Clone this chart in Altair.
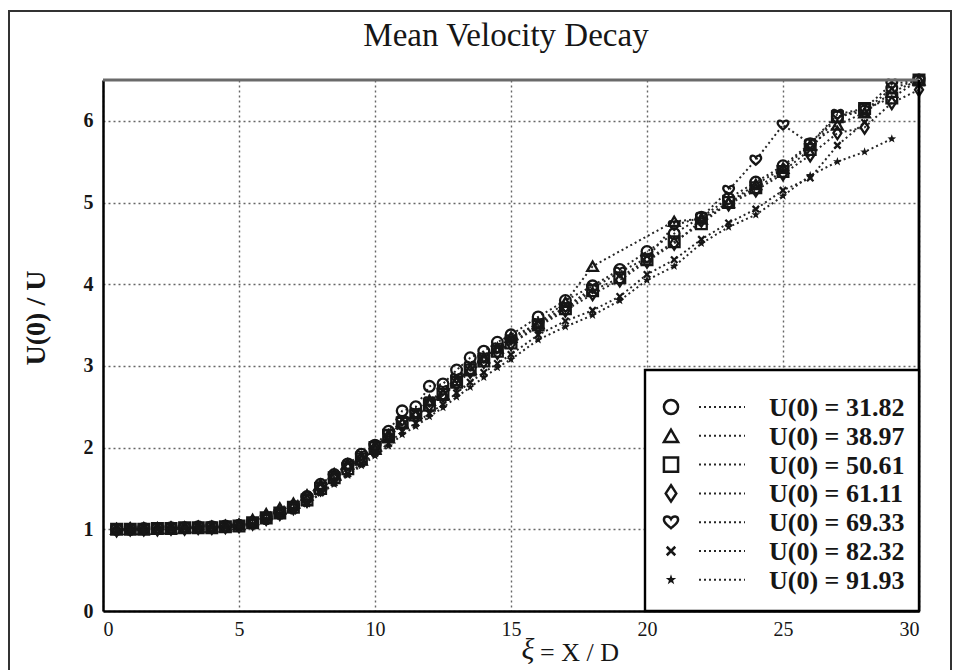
import altair as alt
import pandas as pd

# ---------------- data ----------------
SERIES = ["U(0) = 31.82", "U(0) = 38.97", "U(0) = 50.61", "U(0) = 61.11",
          "U(0) = 69.33", "U(0) = 82.32", "U(0) = 91.93"]

X_LOW = [0.5, 1.0, 1.5, 2.0, 2.5, 3.0, 3.5, 4.0, 4.5, 5.0,
         5.5, 6.0, 6.5, 7.0, 7.5, 8.0, 8.5, 9.0, 9.5, 10.0,
         10.5, 11.0, 11.5, 12.0, 12.5, 13.0, 13.5, 14.0, 14.5, 15.0]

Y_LOW_CIRCLE = [1.00, 1.00, 1.01, 1.01, 1.02, 1.02, 1.03, 1.03, 1.04, 1.05,
                1.08, 1.13, 1.20, 1.28, 1.40, 1.55, 1.67, 1.80, 1.92, 2.03,
                2.20, 2.45, 2.50, 2.75, 2.78, 2.95, 3.10, 3.18, 3.29, 3.38]
Y_LOW_TRIANGLE = [1.00, 1.00, 1.00, 1.01, 1.01, 1.02, 1.03, 1.03, 1.04, 1.06,
                  1.12, 1.19, 1.26, 1.32, 1.42, 1.55, 1.68, 1.80, 1.85, 1.98,
                  2.12, 2.30, 2.42, 2.58, 2.65, 2.82, 2.96, 3.10, 3.22, 3.35]
Y_LOW_SQUARE = [1.00, 1.00, 1.00, 1.01, 1.01, 1.02, 1.02, 1.02, 1.03, 1.04,
                1.08, 1.14, 1.20, 1.27, 1.36, 1.50, 1.63, 1.74, 1.86, 2.00,
                2.15, 2.30, 2.40, 2.52, 2.65, 2.80, 2.95, 3.06, 3.18, 3.28]
Y_LOW_DIAMOND = [0.99, 1.00, 1.00, 1.00, 1.01, 1.01, 1.02, 1.02, 1.03, 1.04,
                 1.07, 1.13, 1.19, 1.26, 1.35, 1.49, 1.62, 1.75, 1.87, 2.00,
                 2.14, 2.28, 2.38, 2.52, 2.64, 2.78, 2.93, 3.05, 3.16, 3.27]
Y_LOW_HEART = [1.00, 1.00, 1.00, 1.01, 1.01, 1.02, 1.02, 1.03, 1.03, 1.04,
               1.08, 1.14, 1.20, 1.27, 1.38, 1.52, 1.65, 1.78, 1.90, 2.02,
               2.16, 2.33, 2.42, 2.56, 2.70, 2.85, 3.00, 3.10, 3.22, 3.32]
Y_LOW_CROSS = [0.99, 0.99, 1.00, 1.00, 1.01, 1.01, 1.02, 1.02, 1.03, 1.03,
               1.06, 1.11, 1.17, 1.23, 1.32, 1.45, 1.57, 1.68, 1.80, 1.93,
               2.05, 2.20, 2.30, 2.42, 2.53, 2.67, 2.80, 2.92, 3.03, 3.14]
Y_LOW_STAR = [0.99, 0.99, 0.99, 1.00, 1.00, 1.01, 1.01, 1.02, 1.02, 1.03,
              1.06, 1.10, 1.16, 1.22, 1.31, 1.44, 1.55, 1.66, 1.78, 1.90,
              2.02, 2.16, 2.26, 2.38, 2.49, 2.62, 2.74, 2.86, 2.98, 3.08]

X_TAIL_CIRCLE = [16, 17, 18, 19, 20, 21, 22, 23, 24, 25, 26, 27, 28, 29, 30]
Y_TAIL_CIRCLE = [3.60, 3.80, 3.98, 4.18, 4.40, 4.62, 4.82, 5.05, 5.25, 5.45, 5.72, 6.05, 6.12, 6.40, 6.50]
X_TAIL_TRIANGLE = [16, 17, 18, 21, 22, 23, 24, 25, 26, 27, 28, 29, 30]
Y_TAIL_TRIANGLE = [3.52, 3.78, 4.22, 4.77, 4.80, 5.00, 5.22, 5.42, 5.70, 5.95, 6.10, 6.35, 6.50]
X_TAIL_SQUARE = [16, 17, 18, 19, 20, 21, 22, 23, 24, 25, 26, 27, 28, 29, 30]
Y_TAIL_SQUARE = [3.50, 3.70, 3.92, 4.08, 4.30, 4.52, 4.74, 5.00, 5.18, 5.38, 5.65, 6.05, 6.15, 6.28, 6.50]
X_TAIL_DIAMOND = [16, 17, 18, 19, 20, 21, 22, 23, 24, 25, 26, 27, 28, 29, 30]
Y_TAIL_DIAMOND = [3.48, 3.68, 3.88, 4.05, 4.28, 4.50, 4.78, 4.98, 5.15, 5.35, 5.58, 5.85, 5.92, 6.22, 6.38]
X_TAIL_HEART = [16, 17, 18, 19, 20, 21, 22, 23, 24, 25, 26, 27, 28, 29, 30]
Y_TAIL_HEART = [3.52, 3.72, 3.95, 4.15, 4.32, 4.72, 4.82, 5.15, 5.52, 5.95, 5.72, 6.08, 6.15, 6.45, 6.50]
X_TAIL_CROSS = [16, 17, 18, 19, 20, 21, 22, 23, 24, 25, 26, 27, 28]
Y_TAIL_CROSS = [3.38, 3.55, 3.68, 3.85, 4.12, 4.30, 4.55, 4.75, 4.92, 5.15, 5.30, 5.70, 5.98]
X_TAIL_STAR = [16, 17, 18, 19, 20, 21, 22, 23, 24, 25, 26, 27, 28, 29]
Y_TAIL_STAR = [3.32, 3.48, 3.62, 3.80, 4.05, 4.22, 4.50, 4.70, 4.85, 5.08, 5.33, 5.50, 5.62, 5.78]

X_TICKS = [0, 5, 10, 15, 20, 25, 30]
Y_TICKS = [0, 1, 2, 3, 4, 5, 6]

# ---------------- build table ----------------
low = [Y_LOW_CIRCLE, Y_LOW_TRIANGLE, Y_LOW_SQUARE, Y_LOW_DIAMOND,
       Y_LOW_HEART, Y_LOW_CROSS, Y_LOW_STAR]
tx = [X_TAIL_CIRCLE, X_TAIL_TRIANGLE, X_TAIL_SQUARE, X_TAIL_DIAMOND,
      X_TAIL_HEART, X_TAIL_CROSS, X_TAIL_STAR]
ty = [Y_TAIL_CIRCLE, Y_TAIL_TRIANGLE, Y_TAIL_SQUARE, Y_TAIL_DIAMOND,
      Y_TAIL_HEART, Y_TAIL_CROSS, Y_TAIL_STAR]
rows = []
for s, yl, xt, yt in zip(SERIES, low, tx, ty):
    for x, y in zip(X_LOW + xt, yl + yt):
        rows.append({"series": s, "x": x, "y": y})
df = pd.DataFrame(rows)
one = pd.DataFrame({"a": [0]})

# marker glyphs (unit-square SVG paths)
HEART = ("M0,0.85 C-0.25,0.6 -1,0.15 -1,-0.35 C-1,-0.9 -0.3,-1 0,-0.45 "
         "C0.3,-1 1,-0.9 1,-0.35 C1,0.15 0.25,0.6 0,0.85 Z")
CROSS = "M-0.6,-0.6L0.6,0.6M-0.6,0.6L0.6,-0.6"
DIAMOND = "M0,-1.15L0.75,0L0,1.15L-0.75,0Z"
STAR = ("M0,-1L0.235,-0.324L0.951,-0.309L0.38,0.124L0.588,0.809L0,0.4"
        "L-0.588,0.809L-0.38,0.124L-0.951,-0.309L-0.235,-0.324Z")
SHAPES = ["circle", "triangle-up", "square", DIAMOND, HEART, CROSS, STAR]
shape_scale = alt.Scale(domain=SERIES, range=SHAPES)

W, H = 816, 531
FONT = "Liberation Serif"
INK = "#161616"

xs = alt.Scale(domain=[0, 30], nice=False, zero=False)
ys = alt.Scale(domain=[0, 6.5], nice=False)

x_axis = alt.Axis(values=X_TICKS, grid=True, gridDash=[2, 3], gridColor="#666666",
                  gridWidth=1.4, ticks=False, domainColor="black",
                  domainWidth=2.5, labelFont=FONT, labelFontSize=20, labelColor=INK,
                  labelPadding=8, title=None)
y_axis = alt.Axis(values=Y_TICKS, grid=True, gridDash=[2, 3], gridColor="#666666",
                  gridWidth=1.4, ticks=False, domainColor="black",
                  domainWidth=2.5, labelFont=FONT, labelFontSize=20, labelFontWeight="bold",
                  labelColor=INK, labelPadding=10, title=None)

base = alt.Chart(df).encode(
    x=alt.X("x:Q", scale=xs, axis=x_axis),
    y=alt.Y("y:Q", scale=ys, axis=y_axis))

lines = base.mark_line(strokeDash=[2, 3], strokeWidth=2, color="#262626").encode(
    detail="series:N")

pts_hollow = base.transform_filter(alt.datum.series != SERIES[6]).mark_point(
    filled=False, strokeWidth=2.3, color=INK, size=115, opacity=1).encode(
    shape=alt.Shape("series:N", scale=shape_scale, legend=None))

pts_star = base.transform_filter(alt.datum.series == SERIES[6]).mark_point(
    filled=True, color=INK, size=85, opacity=1).encode(
    shape=alt.Shape("series:N", scale=shape_scale, legend=None))

frame = alt.Chart(one).mark_rect(fillOpacity=0, stroke="#333", strokeWidth=2).encode(
    x=alt.value(-94), x2=alt.value(848), y=alt.value(-69), y2=alt.value(600))
top_border = alt.Chart(one).mark_rule(color="#6a6a6a", strokeWidth=3).encode(
    x=alt.value(0), x2=alt.value(W), y=alt.value(0))
right_border = alt.Chart(one).mark_rule(color="black", strokeWidth=2.8).encode(
    x=alt.value(W), y=alt.value(0), y2=alt.value(H))

# ---------------- legend (inside the plot, lower right) ----------------
legend_box = alt.Chart(one).mark_rect(fill="white", stroke="black", strokeWidth=2.4).encode(
    x=alt.value(542), x2=alt.value(W), y=alt.value(290), y2=alt.value(H))

legend_layers = [legend_box]
ROW0, ROWSTEP = 327, 28.8
for i, s in enumerate(SERIES):
    ry = ROW0 + ROWSTEP * i
    src = pd.DataFrame({"series": [s]})
    if i == 6:
        sym = alt.Chart(src).mark_point(filled=True, color=INK, size=120, opacity=1)
    else:
        sym = alt.Chart(src).mark_point(filled=False, strokeWidth=2.5, color=INK,
                                        size=200, opacity=1)
    sym = sym.encode(x=alt.value(568), y=alt.value(ry),
                     shape=alt.Shape("series:N", scale=shape_scale, legend=None))
    rule = alt.Chart(src).mark_rule(strokeDash=[2, 3], strokeWidth=2,
                                    color="#262626").encode(
        x=alt.value(596), x2=alt.value(642), y=alt.value(ry))
    txt = alt.Chart(src).mark_text(align="left", baseline="middle", font=FONT,
                                   fontSize=26, fontWeight="bold", color=INK, dy=1).encode(
        x=alt.value(666), y=alt.value(ry), text="series:N")
    legend_layers += [rule, sym, txt]

# ---------------- titles ----------------
title = alt.Chart(one).mark_text(text="Mean Velocity Decay", font=FONT, fontSize=33,
                                 align="center", baseline="alphabetic", color=INK).encode(
    x=alt.value(403), y=alt.value(-34))
ytitle = alt.Chart(one).mark_text(text="U(0) / U", font=FONT, fontSize=28, fontWeight="bold",
                                  angle=270, align="center", baseline="middle", color=INK).encode(
    x=alt.value(-66), y=alt.value(238))
xi = alt.Chart(one).mark_text(text="ξ", font=FONT, fontSize=30, fontStyle="italic",
                              align="center", baseline="alphabetic", color=INK).encode(
    x=alt.value(425), y=alt.value(579))
xtitle = alt.Chart(one).mark_text(text="= X / D", font=FONT, fontSize=26,
                                  align="left", baseline="alphabetic", color=INK).encode(
    x=alt.value(437), y=alt.value(581))

chart = alt.layer(
    lines, pts_hollow, pts_star, frame, top_border, right_border,
    *legend_layers,
    title, ytitle, xi, xtitle
).properties(
    width=W, height=H,
    padding={"left": 103, "top": 80, "right": 35, "bottom": 59},
    autosize=alt.AutoSizeParams(type="none"),
    background="white"
).configure_view(stroke=None)

chart.save("out.html", embed_options={"renderer": "svg", "actions": False})
